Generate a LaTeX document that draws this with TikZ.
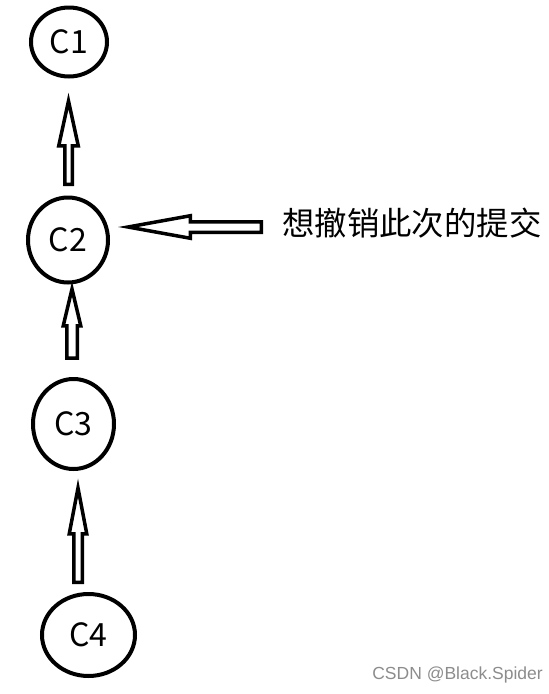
\documentclass[tikz,border=0pt]{standalone}
\usepackage{fontspec}
\newfontfamily\cjk{Noto Sans CJK SC}
\newfontfamily\wmfont{Liberation Sans}
\usetikzlibrary{shapes.geometric,calc}
\begin{document}
\begin{tikzpicture}[x=1pt,y=1pt,
    commit/.style={ellipse,draw,line width=4pt,inner sep=0pt,
        font=\cjk\fontsize{32}{32}\selectfont},
    % hollow block arrow: #1 head length, #2 head half width, #3 shaft half width
    hollow/.style n args={3}{line width=3.5pt,line join=miter,to path={
        let \p1=(\tikztostart),\p2=(\tikztotarget),
            \n1={atan2(\y2-\y1,\x2-\x1)},\n2={veclen(\x2-\x1,\y2-\y1)} in
        {[shift={(\p1)},rotate=\n1]
        (0pt,-#3) -- ({\n2-#1},-#3) -- ({\n2-#1},-#2) -- (\n2,0pt)
        -- ({\n2-#1},#2) -- ({\n2-#1},#3) -- (0pt,#3) -- cycle}}}]
    \useasboundingbox (0,0) rectangle (549,-694);
    \node[commit,minimum width=76pt,minimum height=69pt] (C1) at (69,-42) {C1};
    \node[commit,minimum width=80pt,minimum height=85pt] (C2) at (68,-240) {C2};
    \node[commit,minimum width=81pt,minimum height=90pt] (C3) at (73.5,-424) {C3};
    \node[commit,minimum width=93pt,minimum height=82pt] (C4) at (88.5,-635) {C4};
    \node[anchor=west,inner sep=0pt,font=\cjk\fontsize{32.4}{32.4}\selectfont] (note) at (282,-223) {想撤销此次的提交};
    \node[anchor=east,inner sep=0pt,text=black!45,font=\wmfont\fontsize{17.5}{17.5}\selectfont] (mark) at (543,-675) {CSDN @Black.Spider};
    \draw[hollow={44.75pt}{9.75pt}{3.75pt}] ($(C2.north)+(0.5,11.25)$) to ($(C1.south)+(-0.5,-22.5)$);
    \draw[hollow={36.75pt}{8.75pt}{5.25pt}] ($(C3.north)+(-1.5,19)$) to ($(C2.south)+(4,-4.5)$);
    \draw[hollow={45.75pt}{8.75pt}{4.25pt}] ($(C4.north)+(-10.5,9.75)$) to ($(C3.south)+(4.5,-17)$);
    \draw[hollow={62.25pt}{11.25pt}{5.25pt}] ($(note.west)+(-20.75,-4)$) to ($(C2.east)+(18,13)$);
\end{tikzpicture}
\end{document}
